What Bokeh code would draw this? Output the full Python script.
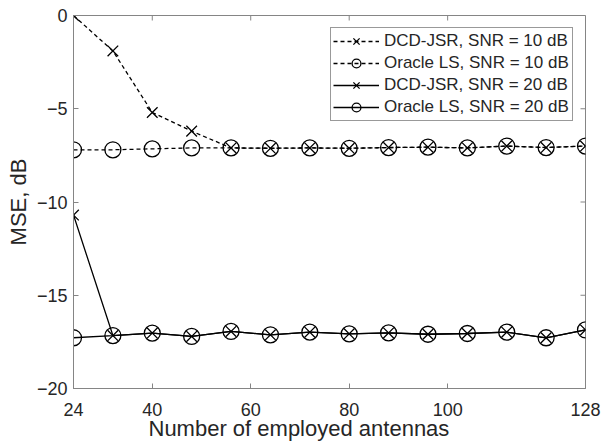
import math
from bokeh.plotting import figure
from bokeh.models import Range1d, FixedTicker, Legend, LegendItem, Title
from bokeh.embed import file_html
from bokeh.resources import INLINE

# Number of employed antennas
antennas = [24, 32, 40, 48, 56, 64, 72, 80, 88, 96, 104, 112, 120, 128]

# MSE in dB for each method / SNR
dcd_10 = [0.0, -1.9, -5.2, -6.2, -7.1, -7.12, -7.1, -7.12, -7.08, -7.06, -7.1, -7.0, -7.08, -7.0]
oracle_10 = [-7.2, -7.2, -7.15, -7.1, -7.1, -7.12, -7.1, -7.12, -7.08, -7.06, -7.1, -7.0, -7.08, -7.0]
dcd_20 = [-10.7, -17.16, -17.03, -17.21, -16.94, -17.12, -16.98, -17.07, -17.02, -17.09, -17.05, -16.98, -17.28, -16.86]
oracle_20 = [-17.28, -17.16, -17.03, -17.21, -16.94, -17.12, -16.98, -17.07, -17.02, -17.09, -17.05, -16.98, -17.28, -16.86]

x_ticks = [24, 40, 60, 80, 100, 128]
y_ticks = [-20, -15, -10, -5, 0]
x_min, x_max = 24, 128
y_min, y_max = -20, 0

labels = [
    "DCD-JSR, SNR = 10 dB",
    "Oracle LS, SNR = 10 dB",
    "DCD-JSR, SNR = 20 dB",
    "Oracle LS, SNR = 20 dB",
]

FONT = "Liberation Sans"
TXT = "#262626"
AX = "#858585"
TICK = 5

p = figure(
    width=605, height=445,
    x_range=Range1d(x_min, x_max), y_range=Range1d(y_min, y_max),
    output_backend="svg", toolbar_location=None,
    min_border_left=73, min_border_right=20, min_border_top=15, min_border_bottom=57,
)
p.grid.visible = False
p.outline_line_color = AX
p.background_fill_color = "white"
p.border_fill_color = "white"

for ax in (p.xaxis[0], p.yaxis[0]):
    ax.major_tick_in = TICK
    ax.major_tick_out = 0
    ax.minor_tick_line_color = None
    ax.axis_line_color = AX
    ax.major_tick_line_color = AX
    ax.major_label_text_font = FONT
    ax.major_label_text_font_size = "18px"
    ax.major_label_text_color = TXT
    ax.axis_label_text_font = FONT
    ax.axis_label_text_font_size = "22px"
    ax.axis_label_text_font_style = "normal"
    ax.axis_label_text_color = TXT

p.xaxis[0].ticker = FixedTicker(ticks=x_ticks)
p.yaxis[0].ticker = FixedTicker(ticks=y_ticks)
p.xaxis[0].major_label_standoff = 14
p.yaxis[0].axis_label = "MSE, dB"
p.yaxis[0].major_label_standoff = 6
p.yaxis[0].axis_label_standoff = 3

# x-axis caption, set as a title under the axis
p.add_layout(Title(text="Number of employed antennas", align="left", offset=75,
                   standoff=-9, text_font=FONT, text_font_size="22px",
                   text_font_style="normal", text_color=TXT), "below")

# Inward tick marks on the top and right edges of the box
p.ray(x=x_ticks, y=[y_max] * len(x_ticks), length=TICK, length_units="screen",
      angle=-math.pi / 2, line_color=AX, line_width=1)
p.ray(x=[x_max] * len(y_ticks), y=y_ticks, length=TICK, length_units="screen",
      angle=math.pi, line_color=AX, line_width=1)

LW = 1.3
series = [
    (dcd_10, "x", "4 3"),
    (oracle_10, "circle", "4 3"),
    (dcd_20, "x", "solid"),
    (oracle_20, "circle", "solid"),
]
items = []
for (ys, marker, dash), label in zip(series, labels):
    ln = p.line(antennas, ys, line_color="black", line_width=LW, line_dash=dash)
    size = 15 if marker == "x" else 16
    sc = p.scatter(antennas, ys, marker=marker, size=size, line_color="black",
                   line_width=LW, fill_color=None)
    items.append(LegendItem(label=label, renderers=[ln, sc]))

legend = Legend(items=items, location="top_right")
legend.label_text_font = FONT
legend.label_text_font_size = "17px"
legend.label_text_line_height = 1.0
legend.label_text_color = TXT
legend.glyph_width = 46
legend.glyph_height = 22
legend.label_height = 20
legend.label_width = 186
legend.spacing = 0
legend.padding = 2
legend.margin = 12
legend.label_standoff = 5
legend.border_line_color = "#333333"
legend.border_line_width = 1
legend.background_fill_alpha = 1
p.add_layout(legend)

open("out.html", "w").write(file_html(p, INLINE))
